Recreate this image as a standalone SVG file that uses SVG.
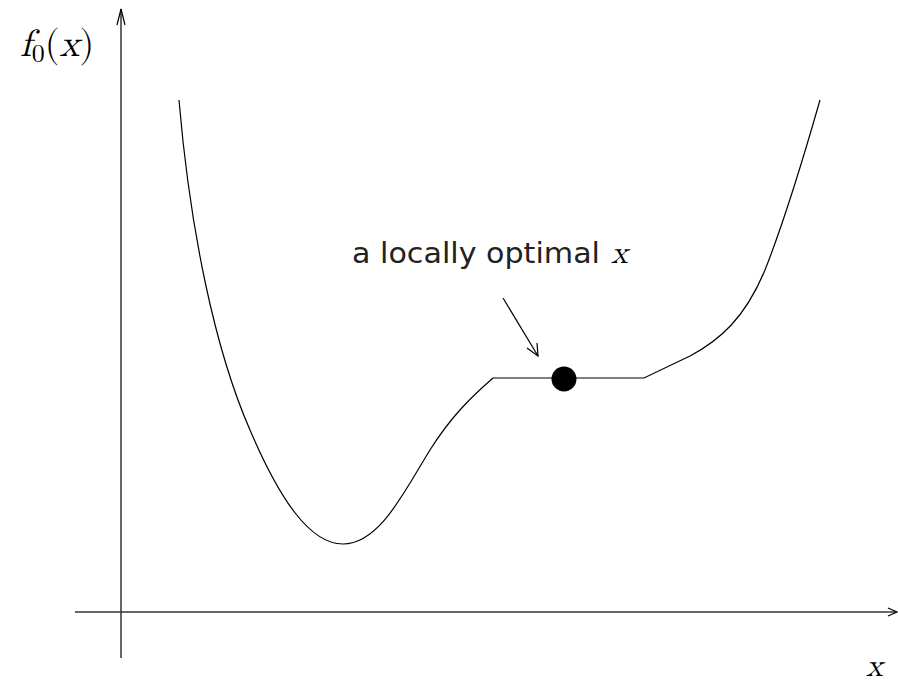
<svg xmlns="http://www.w3.org/2000/svg" width="898" height="685" viewBox="0 0 898 685">
<style>
.axis{stroke:#333;stroke-width:1.5;fill:none}
.curve{stroke:#000;stroke-width:1.2;fill:none}
.head{stroke:#000;stroke-width:1.2;fill:none}
.math{font-family:"Latin Modern Math","DejaVu Serif","Liberation Serif",serif;font-size:32px;fill:#000}
.big{font-size:38px}
.sub{font-size:26px}
.sans{font-family:"DejaVu Sans","Liberation Sans",sans-serif;font-size:28px;fill:#222}
</style>
<rect width="898" height="685" fill="#fff"/>
<g id="axes">
<line class="axis" x1="121" y1="9" x2="121" y2="658"/>
<polyline class="head" points="117,25 121,9 125,25"/>
<line class="axis" x1="75" y1="612" x2="896" y2="612"/>
<polyline class="head" points="888,608 897,612 888,616"/>
</g>
<g id="function-curve">
<path class="curve" d="M179,100 C190,230 215,350 250,430 C280,500 310,544 343,544 C380,544 405,490 430,450 C450,418 470,398 493,378 L644,378 L690,356 C720,340 745,318 765,270 C780,232 800,170 820,100"/>
</g>
<g id="optimum">
<circle cx="564" cy="379" r="12.5" fill="#000"/>
</g>
<g id="connectors">
<line class="curve" x1="503" y1="298" x2="538" y2="356"/>
<polyline class="head" points="527,348 538,356 537,343"/>
</g>
<g id="labels">
<text class="math big" x="20" y="56"><tspan font-style="italic">f</tspan><tspan class="sub" dy="6">0</tspan><tspan dy="-6">(</tspan><tspan font-style="italic">x</tspan>)</text>
<text class="sans" x="352" y="263" textLength="248" lengthAdjust="spacingAndGlyphs">a locally optimal</text>
<text class="math" x="611" y="263" font-style="italic">x</text>
<text class="math" x="866" y="676" font-style="italic">x</text>
</g>
</svg>
